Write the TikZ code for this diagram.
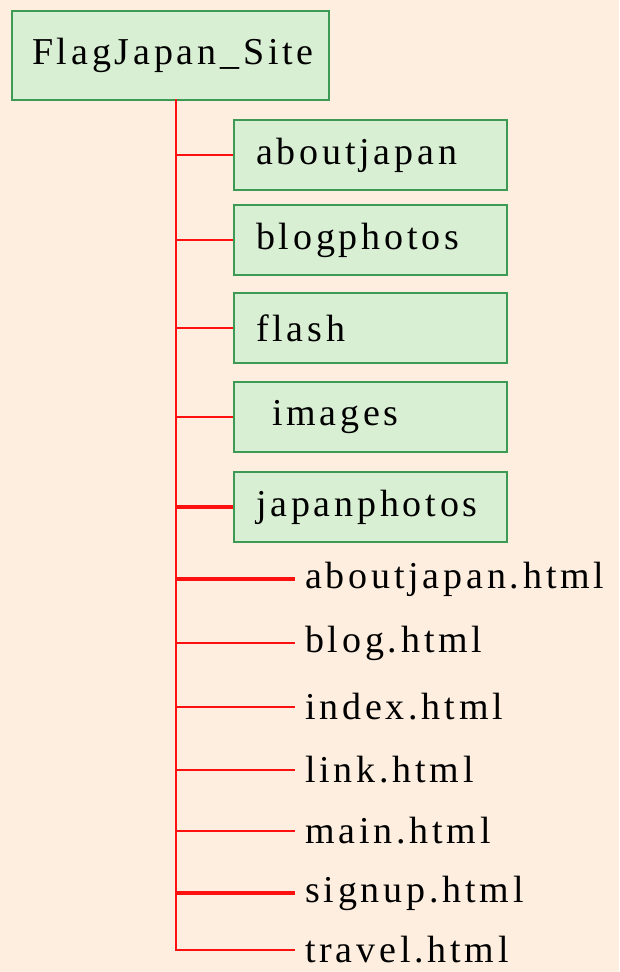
\documentclass[tikz,border=0pt]{standalone}
\usepackage{fontspec}
\setmainfont{Liberation Serif}[LetterSpace=10]
\definecolor{bg}{HTML}{FEEEDF}
\definecolor{boxfill}{HTML}{D9EFD3}
\definecolor{boxline}{HTML}{3C9A55}
\definecolor{branch}{HTML}{FF1010}
\begin{document}
\begin{tikzpicture}[x=1pt,y=-1pt,
  every node/.style={font=\fontsize{38}{42}\selectfont},
  folder/.style={draw=boxline,line width=2.2pt,fill=boxfill,minimum height=70pt,
    text width=229pt,inner xsep=22pt,align=left,anchor=west},
  file/.style={anchor=west,inner xsep=10pt,inner ysep=0pt},
  link/.style={draw=branch,line width=2.2pt},
  thick link/.style={draw=branch,line width=3.4pt}]
\fill[bg] (0,0) rectangle (619,972);
\useasboundingbox (0,0) rectangle (619,972);
\node[draw=boxline,line width=2.2pt,fill=boxfill,minimum height=89pt,
  text width=277pt,inner xsep=20pt,align=left,anchor=north west] (root) at (11,10) {FlagJapan\_Site};
\coordinate (sp) at (176,99);
\node[folder] (d1) at (233,155) {aboutjapan};
\node[folder] (d2) at (233,240) {blogphotos};
\node[folder] (d3) at (233,328) {flash};
\node[folder] (d4) at (233,417) {\hspace{16pt}images};
\node[folder] (d5) at (233,507) {japanphotos};
\node[file] (f1) at (295,579) {aboutjapan.html};
\node[file] (f2) at (295,643) {blog.html};
\node[file] (f3) at (295,707) {index.html};
\node[file] (f4) at (295,770) {link.html};
\node[file] (f5) at (295,831) {main.html};
\node[file] (f6) at (295,893) {signup.html};
\node[file] (f7) at (295,950) {travel.html};
\draw[link] (sp) -- (sp |- f7.west) -- (f7.west);
\draw[link] (sp |- d1.west) -- (d1.west);
\draw[link] (sp |- d2.west) -- (d2.west);
\draw[link] (sp |- d3.west) -- (d3.west);
\draw[link] (sp |- d4.west) -- (d4.west);
\draw[thick link] (sp |- d5.west) -- (d5.west);
\draw[thick link] (sp |- f1.west) -- (f1.west);
\draw[link] (sp |- f2.west) -- (f2.west);
\draw[link] (sp |- f3.west) -- (f3.west);
\draw[link] (sp |- f4.west) -- (f4.west);
\draw[link] (sp |- f5.west) -- (f5.west);
\draw[thick link] (sp |- f6.west) -- (f6.west);
\end{tikzpicture}
\end{document}
